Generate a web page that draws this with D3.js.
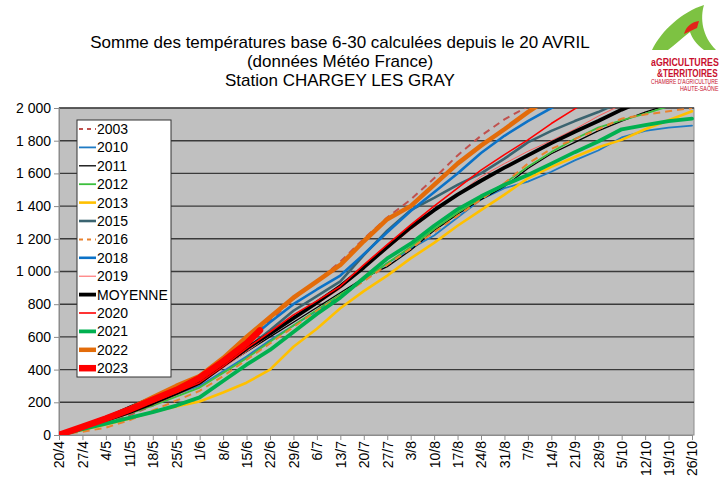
<!DOCTYPE html>
<html>
<head>
<meta charset="utf-8">
<script src="https://cdn.jsdelivr.net/npm/d3@7"></script>
<style>
  body { margin: 0; background: #fff; }
  svg { display: block; font-family: "Liberation Sans", Arial, sans-serif; }
</style>
</head>
<body>
<div id="chart"></div>
<script>
// weekly x categories (days since 20/4)
const dateLabels = ["20/4","27/4","4/5","11/5","18/5","25/5","1/6","8/6","15/6","22/6","29/6","6/7","13/7","20/7",
  "27/7","3/8","10/8","17/8","24/8","31/8","7/9","14/9","21/9","28/9","5/10","12/10","19/10","26/10"];
const weekDays = [0,7,14,21,28,35,42,49,56,63,70,77,84,91,98,105,112,119,126,133,140,147,154,161,168,175,182,189];
const yTicks = [0,200,400,600,800,1000,1200,1400,1600,1800,2000];

// cumulative degree-days, one value per week
const v2003 = [0,30,70,120,180,260,340,450,580,700,830,940,1060,1200,1330,1440,1570,1710,1830,1930,2010];
const v2010 = [0,50,100,150,200,250,300,390,480,580,670,760,850,950,1050,1140,1220,1330,1440,1510,1550,1610,1680,1740,1820,1860,1880,1892];
const v2011 = [0,50,110,175,235,280,330,420,510,600,690,780,870,960,1030,1130,1250,1350,1440,1520,1630,1720,1790,1860,1920,1975,2020];
const v2012 = [0,40,85,130,180,235,290,380,470,570,670,765,860,950,1050,1150,1260,1360,1450,1540,1640,1730,1810,1880,1925,1965,2010];
const v2013 = [0,30,65,100,140,175,205,260,320,400,540,650,775,880,975,1080,1175,1280,1375,1470,1570,1640,1700,1760,1805,1870,1925,1980];
const v2015 = [0,40,90,140,200,260,320,420,530,640,760,850,940,1100,1250,1375,1450,1530,1600,1690,1790,1860,1920,1975,2040];
const v2016 = [0,20,45,90,150,210,270,360,460,560,660,760,850,940,1040,1140,1240,1340,1440,1540,1660,1750,1810,1870,1935,1960,1980,2000];
const v2018 = [0,55,110,165,225,290,350,450,570,690,800,890,975,1105,1240,1370,1485,1600,1725,1830,1920,2000,2080];
const v2019 = [0,35,80,130,185,245,310,410,510,610,710,800,895,1020,1140,1255,1370,1470,1580,1660,1735,1800,1870,1950,2020];
const vMoyenne = [0,40,90,140,195,255,320,425,530,620,715,810,910,1025,1150,1270,1375,1470,1555,1635,1710,1785,1855,1920,1990,2050];
const v2020 = [0,50,100,150,200,260,320,420,530,630,735,820,910,1040,1165,1285,1400,1510,1620,1715,1805,1905,1995,2080];
const v2021 = [0,35,70,105,140,180,230,330,430,520,630,740,840,960,1080,1170,1280,1380,1460,1530,1590,1660,1730,1795,1870,1895,1920,1935];
const v2022 = [0,50,100,160,230,300,360,470,600,720,840,940,1040,1185,1320,1400,1530,1660,1770,1870,1975,2070];
const days2023 = [0,7,14,21,28,35,42,49,56,60];
const v2023 = [0,50,100,155,215,275,350,450,560,640];

const series = [
  { name: "2003", days: weekDays, values: v2003, color: "#c0504d", width: 2, dash: "7,5" },
  { name: "2010", days: weekDays, values: v2010, color: "#1f7bc4", width: 1.8 },
  { name: "2011", days: weekDays, values: v2011, color: "#000", width: 1.3 },
  { name: "2012", days: weekDays, values: v2012, color: "#3cbf3c", width: 1.8 },
  { name: "2013", days: weekDays, values: v2013, color: "#ffc000", width: 2.6 },
  { name: "2015", days: weekDays, values: v2015, color: "#3b6470", width: 2.6 },
  { name: "2016", days: weekDays, values: v2016, color: "#e9822e", width: 2, dash: "7,5" },
  { name: "2018", days: weekDays, values: v2018, color: "#0c72c7", width: 2.6 },
  { name: "2019", days: weekDays, values: v2019, color: "#ff5a5a", width: 1 },
  { name: "MOYENNE", days: weekDays, values: vMoyenne, color: "#000", width: 3.8 },
  { name: "2020", days: weekDays, values: v2020, color: "#ff0000", width: 1.6 },
  { name: "2021", days: weekDays, values: v2021, color: "#00b050", width: 3.8 },
  { name: "2022", days: weekDays, values: v2022, color: "#e36c0a", width: 4.5 },
  { name: "2023", days: days2023, values: v2023, color: "#ff0000", width: 6.5 }
];

const W = 725, H = 477;
const plot = { left: 59, right: 694, top: 108, bottom: 435 };

const svg = d3.select("#chart").append("svg").attr("width", W).attr("height", H);

const x = d3.scaleLinear().domain([0, 189]).range([plot.left, 692]);
const y = d3.scaleLinear().domain([0, 2000]).range([plot.bottom, plot.top]);

// plot background
svg.append("rect")
  .attr("x", plot.left).attr("y", plot.top)
  .attr("width", plot.right - plot.left).attr("height", plot.bottom - plot.top)
  .attr("fill", "#c0c0c0").attr("stroke", "#8c8c8c").attr("stroke-width", 1);

// gridlines
svg.append("g")
  .selectAll("line")
  .data(yTicks.filter(d => d > 0))
  .enter().append("line")
  .attr("x1", plot.left).attr("x2", plot.right)
  .attr("y1", d => y(d)).attr("y2", d => y(d))
  .attr("stroke", "#3a3a3a").attr("stroke-width", 1.4);

// y axis
const fmt = d => d3.format(",")(d).replace(",", " ");
const yAxis = svg.append("g")
  .attr("transform", `translate(${plot.left},0)`)
  .call(d3.axisLeft(y).tickValues(yTicks).tickSize(5).tickFormat(fmt));
yAxis.select(".domain").attr("stroke", "#8c8c8c");
yAxis.selectAll(".tick line").attr("stroke", "#8c8c8c");
yAxis.selectAll("text").attr("font-size", 14).attr("fill", "#000")
  .attr("font-family", "'Liberation Sans', Arial, sans-serif").attr("x", -8);

// x axis
const xAxis = svg.append("g")
  .attr("transform", `translate(0,${plot.bottom})`)
  .call(d3.axisBottom(x).tickValues(weekDays).tickSize(5).tickFormat((d, i) => dateLabels[i]));
xAxis.select(".domain").attr("stroke", "#8c8c8c");
xAxis.selectAll(".tick line").attr("stroke", "#8c8c8c");
xAxis.selectAll("text")
  .attr("font-size", 14).attr("fill", "#000")
  .attr("font-family", "'Liberation Sans', Arial, sans-serif")
  .attr("transform", "rotate(-90)")
  .attr("text-anchor", "end")
  .attr("x", -6).attr("y", 0).attr("dy", "0.35em");

// lines
svg.append("clipPath").attr("id", "clip")
  .append("rect")
  .attr("x", plot.left).attr("y", plot.top)
  .attr("width", plot.right - plot.left).attr("height", plot.bottom - plot.top);

const line = d3.line()
  .x(d => x(d[0]))
  .y(d => y(d[1]));

svg.append("g").attr("clip-path", "url(#clip)")
  .selectAll("path")
  .data(series)
  .enter().append("path")
  .attr("d", s => line(s.values.map((v, i) => [s.days[i], v])))
  .attr("fill", "none")
  .attr("stroke", s => s.color)
  .attr("stroke-width", s => s.width)
  .attr("stroke-dasharray", s => s.dash || null)
  .attr("stroke-linejoin", "round")
  .attr("stroke-linecap", s => s.dash ? "butt" : "round");

// legend
const legend = svg.append("g");
legend.append("rect")
  .attr("x", 77).attr("y", 120).attr("width", 94).attr("height", 257)
  .attr("fill", "#fff").attr("stroke", "#333").attr("stroke-width", 1);

const item = legend.selectAll("g.item")
  .data(series)
  .enter().append("g")
  .attr("class", "item")
  .attr("transform", (d, i) => `translate(0,${129 + i * 18.4})`);

item.append("line")
  .attr("x1", 79).attr("x2", 96).attr("y1", 0).attr("y2", 0)
  .attr("stroke", d => d.color)
  .attr("stroke-width", d => d.width)
  .attr("stroke-dasharray", d => d.dash ? "4,4" : null);

item.append("text")
  .attr("x", 97).attr("y", 5)
  .attr("font-size", 14)
  .text(d => d.name);

// title
const titleLines = [
  "Somme des températures base 6-30 calculées depuis le 20 AVRIL",
  "(données Météo France)",
  "Station CHARGEY LES GRAY"
];
svg.append("g").selectAll("text")
  .data(titleLines)
  .enter().append("text")
  .attr("x", 340).attr("y", (d, i) => 48 + i * 19)
  .attr("text-anchor", "middle")
  .attr("font-size", 17)
  .text(d => d);

// logo (condensed text via horizontal scale)
const logo = svg.append("g");
logo.append("path")
  .attr("d", "M652,50 C662,30 682,12 704,5 C700,18 702,36 716,50 L704,50 C696,44 692,38 690,32 C682,38 676,44 668,50 Z")
  .attr("fill", "#7dc242");
logo.append("path")
  .attr("d", "M684,34 C686,26 692,22 699,21 L697,28 Z")
  .attr("fill", "#e2231a");

const logoText = [
  { t: "aGRICULTURES", x: 651, y: 66, size: 11, bold: true, sx: 0.8 },
  { t: "&TERRITOIRES", x: 657, y: 76.5, size: 10, bold: true, sx: 0.82 },
  { t: "CHAMBRE D'AGRICULTURE", x: 651, y: 84, size: 6.5, bold: false, sx: 0.78 },
  { t: "HAUTE-SAÔNE", x: 680, y: 90.5, size: 6.5, bold: false, sx: 0.82 }
];
logo.selectAll("text")
  .data(logoText)
  .enter().append("text")
  .attr("transform", d => `translate(${d.x},${d.y}) scale(${d.sx},1)`)
  .attr("font-size", d => d.size)
  .attr("font-weight", d => d.bold ? "bold" : "normal")
  .attr("fill", "#c8102e")
  .text(d => d.t);
</script>
</body>
</html>
